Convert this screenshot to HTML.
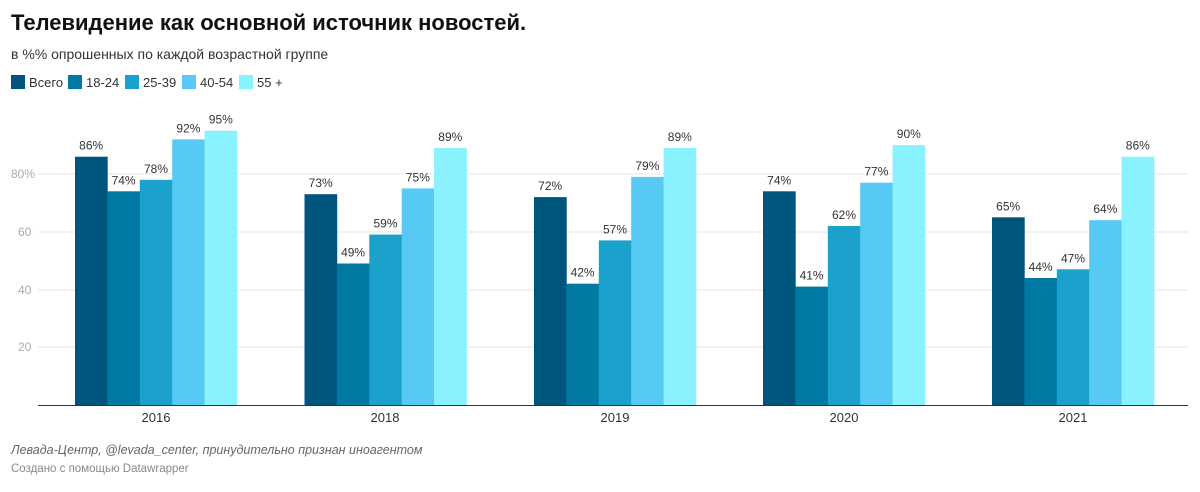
<!DOCTYPE html>
<html><head><meta charset="utf-8"><style>
body{margin:0;background:#fff;width:1200px;height:487px;overflow:hidden;font-family:"Liberation Sans",sans-serif}
</style></head><body>
<svg width="1200" height="487" xmlns="http://www.w3.org/2000/svg" font-family="Liberation Sans, sans-serif">
<text x="11" y="30" font-size="22" font-weight="bold" fill="#111">Телевидение как основной источник новостей.</text>
<text x="11" y="59" font-size="14" fill="#333">в %% опрошенных по каждой возрастной группе</text>
<g font-size="13" fill="#333">
<rect x="11" y="75" width="14" height="14" fill="#00557c"/><text x="29" y="87">Всего</text>
<rect x="68" y="75" width="14" height="14" fill="#0079a3"/><text x="86" y="87">18-24</text>
<rect x="125" y="75" width="14" height="14" fill="#1aa1cc"/><text x="143" y="87">25-39</text>
<rect x="182" y="75" width="14" height="14" fill="#57c9f5"/><text x="200" y="87">40-54</text>
<rect x="239" y="75" width="14" height="14" fill="#8af2ff"/><text x="257" y="87">55 +</text>
</g>
<g stroke="#e6e6e6" stroke-width="1">
<line x1="38" y1="174" x2="1188" y2="174"/><line x1="38" y1="232" x2="1188" y2="232"/>
<line x1="38" y1="290" x2="1188" y2="290"/><line x1="38" y1="347" x2="1188" y2="347"/>
</g>
<g font-size="12" fill="#aaa">
<text x="11" y="178">80%</text><text x="18" y="236">60</text><text x="18" y="294">40</text><text x="18" y="351">20</text>
</g>
<g>
<rect x="75" y="156.7" width="32.7" height="248.3" fill="#00557c"/>
<rect x="107.4" y="191.3" width="32.7" height="213.7" fill="#0079a3"/>
<rect x="139.8" y="179.8" width="32.7" height="225.2" fill="#1aa1cc"/>
<rect x="172.2" y="139.4" width="32.7" height="265.6" fill="#57c9f5"/>
<rect x="204.6" y="130.7" width="32.7" height="274.3" fill="#8af2ff"/>

<rect x="304.5" y="194.2" width="32.7" height="210.8" fill="#00557c"/>
<rect x="336.9" y="263.5" width="32.7" height="141.5" fill="#0079a3"/>
<rect x="369.3" y="234.6" width="32.7" height="170.4" fill="#1aa1cc"/>
<rect x="401.7" y="188.4" width="32.7" height="216.6" fill="#57c9f5"/>
<rect x="434.1" y="148" width="32.7" height="257" fill="#8af2ff"/>

<rect x="534" y="197.1" width="32.7" height="207.9" fill="#00557c"/>
<rect x="566.4" y="283.7" width="32.7" height="121.3" fill="#0079a3"/>
<rect x="598.8" y="240.4" width="32.7" height="164.6" fill="#1aa1cc"/>
<rect x="631.2" y="176.9" width="32.7" height="228.1" fill="#57c9f5"/>
<rect x="663.6" y="148" width="32.7" height="257" fill="#8af2ff"/>

<rect x="763" y="191.3" width="32.7" height="213.7" fill="#00557c"/>
<rect x="795.4" y="286.6" width="32.7" height="118.4" fill="#0079a3"/>
<rect x="827.8" y="226" width="32.7" height="179" fill="#1aa1cc"/>
<rect x="860.2" y="182.7" width="32.7" height="222.3" fill="#57c9f5"/>
<rect x="892.6" y="145.1" width="32.7" height="259.9" fill="#8af2ff"/>

<rect x="992" y="217.3" width="32.7" height="187.7" fill="#00557c"/>
<rect x="1024.4" y="278" width="32.7" height="127" fill="#0079a3"/>
<rect x="1056.8" y="269.3" width="32.7" height="135.7" fill="#1aa1cc"/>
<rect x="1089.2" y="220.2" width="32.7" height="184.8" fill="#57c9f5"/>
<rect x="1121.6" y="156.7" width="32.7" height="248.3" fill="#8af2ff"/>
</g>
<g font-size="12" fill="#333" text-anchor="middle">
<text x="91.2" y="149.7">86%</text><text x="123.6" y="184.3">74%</text><text x="156" y="172.8">78%</text><text x="188.4" y="132.4">92%</text><text x="220.8" y="123.7">95%</text>
<text x="320.7" y="187.2">73%</text><text x="353.1" y="256.5">49%</text><text x="385.5" y="227.6">59%</text><text x="417.9" y="181.4">75%</text><text x="450.3" y="141">89%</text>
<text x="550.2" y="190.1">72%</text><text x="582.6" y="276.7">42%</text><text x="615" y="233.4">57%</text><text x="647.4" y="169.9">79%</text><text x="679.8" y="141">89%</text>
<text x="779.2" y="184.3">74%</text><text x="811.6" y="279.6">41%</text><text x="844" y="219">62%</text><text x="876.4" y="175.7">77%</text><text x="908.8" y="138.1">90%</text>
<text x="1008.2" y="210.3">65%</text><text x="1040.6" y="271">44%</text><text x="1073" y="262.3">47%</text><text x="1105.4" y="213.2">64%</text><text x="1137.8" y="149.7">86%</text>
</g>
<line x1="38" y1="405.5" x2="1188" y2="405.5" stroke="#333" stroke-width="1"/>
<g font-size="13" fill="#333" text-anchor="middle">
<text x="156" y="422">2016</text><text x="385" y="422">2018</text><text x="615" y="422">2019</text><text x="844" y="422">2020</text><text x="1073" y="422">2021</text>
</g>
<text x="11" y="454" font-size="12.5" font-style="italic" fill="#666">Левада-Центр, @levada_center, принудительно признан иноагентом</text>
<text x="11" y="472" font-size="11.5" fill="#888">Создано с помощью Datawrapper</text>
</svg>
</body></html>
